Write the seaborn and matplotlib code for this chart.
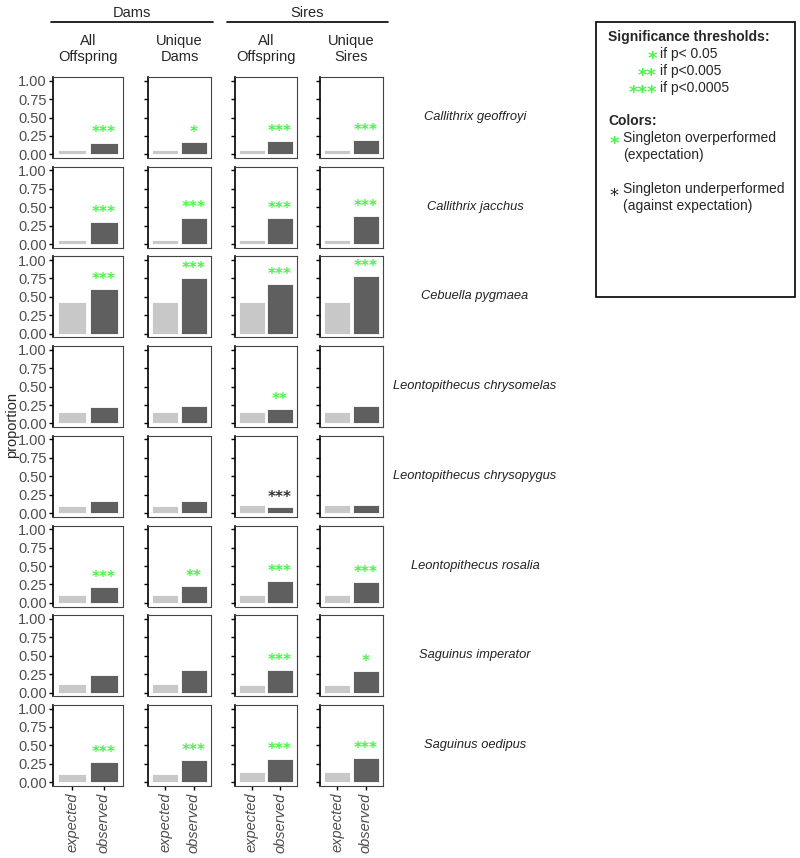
import matplotlib
matplotlib.use("Agg")
import matplotlib.pyplot as plt
import seaborn as sns
import pandas as pd

# --- data ---
species = ["Callithrix geoffroyi", "Callithrix jacchus", "Cebuella pygmaea",
           "Leontopithecus chrysomelas", "Leontopithecus chrysopygus",
           "Leontopithecus rosalia", "Saguinus imperator", "Saguinus oedipus"]
categories = ["expected", "observed"]
col_titles = ["All\nOffspring", "Unique\nDams", "All\nOffspring", "Unique\nSires"]
group_titles = ["Dams", "Sires"]

expected_dams_all = [0.06, 0.06, 0.43, 0.15, 0.09, 0.10, 0.12, 0.11]
observed_dams_all = [0.16, 0.30, 0.61, 0.22, 0.17, 0.21, 0.24, 0.27]
stars_dams_all = ["***", "***", "***", "", "", "***", "", "***"]

expected_dams_unique = [0.06, 0.06, 0.43, 0.15, 0.09, 0.10, 0.12, 0.11]
observed_dams_unique = [0.17, 0.36, 0.75, 0.24, 0.16, 0.23, 0.30, 0.30]
stars_dams_unique = ["*", "***", "***", "", "", "**", "", "***"]

expected_sires_all = [0.06, 0.05, 0.43, 0.15, 0.11, 0.11, 0.10, 0.135]
observed_sires_all = [0.18, 0.35, 0.68, 0.20, 0.08, 0.29, 0.30, 0.31]
stars_sires_all = ["***", "***", "***", "**", "***", "***", "***", "***"]

expected_sires_unique = [0.06, 0.05, 0.43, 0.15, 0.11, 0.11, 0.10, 0.135]
observed_sires_unique = [0.19, 0.38, 0.78, 0.23, 0.11, 0.28, 0.29, 0.33]
stars_sires_unique = ["***", "***", "***", "", "", "***", "*", "***"]

columns = [
    (expected_dams_all, observed_dams_all, stars_dams_all),
    (expected_dams_unique, observed_dams_unique, stars_dams_unique),
    (expected_sires_all, observed_sires_all, stars_sires_all),
    (expected_sires_unique, observed_sires_unique, stars_sires_unique),
]

sns.set_style("white")
plt.rcParams["font.family"] = ["Liberation Sans", "DejaVu Sans"]

GREEN = "#4cf24c"
bar_colors = {"expected": "#c8c8c8", "observed": "#5f5f5f"}

W, H = 800, 858
fig = plt.figure(figsize=(W / 100, H / 100), dpi=100)

# panel pixel geometry (left, right) per column
col_px = [(53, 123), (148, 211), (235, 297), (320, 383)]
row_top0, row_pitch, row_h = 77, 89.7, 81


def px_to_fig(x0, x1, y_top, h):
    return [x0 / W, 1 - (y_top + h) / H, (x1 - x0) / W, h / H]


for r, sp in enumerate(species):
    y_top = row_top0 + r * row_pitch
    for c, (exp_vals, obs_vals, star_vals) in enumerate(columns):
        ax = fig.add_axes(px_to_fig(*col_px[c], y_top, row_h))
        df = pd.DataFrame({"type": categories,
                           "proportion": [exp_vals[r], obs_vals[r]]})
        sns.barplot(data=df, x="type", y="proportion", hue="type",
                    palette=bar_colors, order=categories, width=0.9,
                    edgecolor="white", linewidth=0.6, legend=False, ax=ax)
        ax.set_xlim(-0.6, 1.6)
        ax.set_ylim(-0.05, 1.05)
        ax.set_yticks([0, 0.25, 0.5, 0.75, 1.0])
        ax.set_xlabel("")
        ax.set_ylabel("")
        for side in ["top", "right", "bottom"]:
            ax.spines[side].set_color("#444444")
            ax.spines[side].set_linewidth(0.8)
        ax.spines["left"].set_color("black")
        ax.spines["left"].set_linewidth(1.2)
        ax.tick_params(axis="y", left=True, length=3, width=1, color="black",
                       labelsize=10.5, labelcolor="#4d4d4d", pad=1.5)
        if c != 0:
            ax.set_yticklabels([])
        else:
            ax.set_yticklabels(["0.00", "0.25", "0.50", "0.75", "1.00"])
        if r == len(species) - 1:
            ax.tick_params(axis="x", bottom=True, length=3, width=1,
                           color="black", labelsize=10.5, labelcolor="#4d4d4d",
                           rotation=90, pad=2)
            for lbl in ax.get_xticklabels():
                lbl.set_fontstyle("italic")
        else:
            ax.set_xticks([])
        s = star_vals[r]
        if s:
            color = GREEN if obs_vals[r] >= exp_vals[r] else "#333333"
            ax.text(1, obs_vals[r] + 0.13, s, ha="center", va="center",
                    color=color, fontsize=11, weight="bold",
                    family="DejaVu Sans")
        if c == 3:
            fig.text(475 / W, 1 - (y_top + 40) / H, sp, ha="center",
                     va="center", fontsize=9.3, style="italic",
                     color="#222222")

# column titles
for c, t in enumerate(col_titles):
    cx = (col_px[c][0] + col_px[c][1]) / 2
    fig.text(cx / W, 1 - 49 / H, t, ha="center", va="center", fontsize=10.5,
             linespacing=1.1)

# group titles with lines
group_px = [(51, 213), (227, 388)]
for (x0, x1), t in zip(group_px, group_titles):
    fig.text((x0 + x1) / 2 / W, 1 - 13 / H, t, ha="center", va="center",
             fontsize=10.5)
    fig.add_artist(plt.Line2D([x0 / W, x1 / W], [1 - 22 / H, 1 - 22 / H],
                              color="black", linewidth=1.2))

fig.text(12 / W, 1 - 425 / H, "proportion", rotation=90, ha="center",
         va="center", fontsize=10.5)

# legend box
lx0, ly0, lx1, ly1 = 596, 22, 795, 297
fig.add_artist(plt.Rectangle((lx0 / W, 1 - ly1 / H), (lx1 - lx0) / W,
                             (ly1 - ly0) / H, fill=False, edgecolor="black",
                             linewidth=1.2))
fig.text(608 / W, 1 - 37 / H, "Significance thresholds:", fontsize=10,
         weight="bold", va="center")
for y, st, lab in [(54, "*", "if p< 0.05"), (71, "**", "if p<0.005"),
                   (88, "***", "if p<0.0005")]:
    fig.text(657 / W, 1 - (y + 5) / H, st, fontsize=13, color=GREEN,
             ha="right", va="center", weight="bold", family="DejaVu Sans")
    fig.text(660 / W, 1 - y / H, lab, fontsize=10, va="center")
fig.text(608 / W, 1 - 121 / H, "Colors:", fontsize=10, weight="bold",
         va="center")
fig.text(614 / W, 1 - 144 / H, "*", fontsize=13, color=GREEN, ha="center",
         va="center", weight="bold", family="DejaVu Sans")
fig.text(623 / W, 1 - 131 / H, "Singleton overperformed\n(expectation)",
         fontsize=10, va="top", linespacing=1.3)
fig.text(614 / W, 1 - 196 / H, "*", fontsize=13, color="#222222",
         ha="center", va="center", family="DejaVu Sans")
fig.text(623 / W, 1 - 182 / H, "Singleton underperformed\n(against expectation)",
         fontsize=10, va="top", linespacing=1.3)

fig.savefig("out.png", dpi=100, facecolor="white")
